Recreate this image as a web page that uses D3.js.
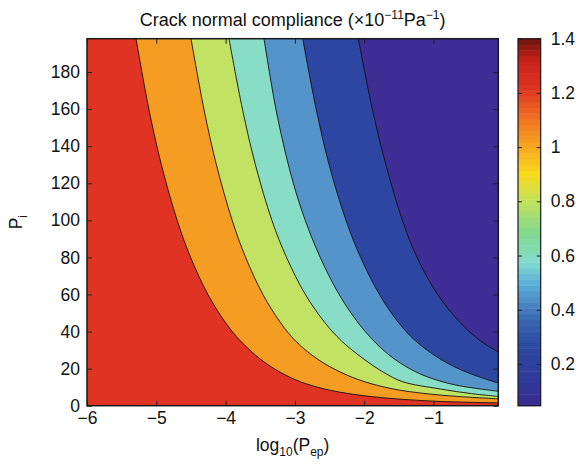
<!DOCTYPE html>
<html>
<head>
<meta charset="utf-8">
<script src="https://cdn.jsdelivr.net/npm/d3@7"></script>
<style>
body { margin: 0; background: #fff; }
svg text { font-family: "Liberation Sans", Arial, sans-serif; fill: #111; }
</style>
</head>
<body>
<svg id="chart" width="583" height="465"></svg>
<script>
// contour levels and the fill used above each one (value below the level)
var levels = [1.2, 1.0, 0.8, 0.6, 0.4, 0.2]
var baseColor = '#e03323'
var levelColors = ['#f59d23', '#c1e262', '#88ddc6', '#5593cb', '#2d46a1', '#3d2d95']

// contour lines: [log10(Pep), Pi]
var c12 = [[-5.293,198],[-5.107,160],[-4.927,130],[-4.699,100],[-4.505,80],[-4.255,60],[-4.005,45],[-3.787,35],[-3.495,25],[-3.209,18],[-2.927,13],[-2.571,9],[-2.131,6],[-1.642,4],[-1.263,3],[-0.85,2.2],[-0.065,1.5]]
var c10 = [[-4.499,198],[-4.313,160],[-4.133,130],[-3.905,100],[-3.711,80],[-3.461,60],[-3.211,45],[-2.993,35],[-2.669,25],[-2.336,18],[-2.0,13],[-1.579,9],[-1.109,6.5],[-0.653,5],[-0.065,3.7]]
var c08 = [[-3.951,198],[-3.757,160],[-3.570,130],[-3.332,100],[-3.121,80],[-2.849,60],[-2.571,45],[-2.329,35],[-2.0,25],[-1.72,18],[-1.45,13],[-0.9,9],[-0.45,6.5],[-0.065,5.0]]
var c06 = [[-3.446,198],[-3.274,160],[-3.094,130],[-2.942,110],[-2.749,90],[-2.507,70],[-2.279,55],[-1.985,40],[-1.662,28],[-1.345,20],[-1.047,15],[-0.661,11],[-0.065,7.8]]
var c04 = [[-2.887,198],[-2.693,160],[-2.506,130],[-2.263,100],[-2.052,80],[-1.780,60],[-1.508,45],[-1.260,35],[-0.895,25],[-0.519,18],[-0.065,12.2]]
var c02 = [[-2.085,198],[-1.883,160],[-1.687,130],[-1.449,100],[-1.238,80],[-0.940,60],[-0.619,45],[-0.324,35],[-0.065,29]]
var contours = [c12, c10, c08, c06, c04, c02]

var xTicks = [-6, -5, -4, -3, -2, -1]
var yTicks = [0, 20, 40, 60, 80, 100, 120, 140, 160, 180]
var xDomain = [-6, -0.065]
var yDomain = [0, 198]

// colorbar
var cDomain = [0.046, 1.4]
var cTicks = [0.2, 0.4, 0.6, 0.8, 1, 1.2, 1.4]
var cStops = [0.046, 0.15, 0.25, 0.35, 0.42, 0.5, 0.58, 0.68, 0.8, 0.9, 1.0, 1.12, 1.22, 1.32, 1.4]
var cStopColors = ['#3b2a8f','#2f3b9b','#2c46a1','#3561ad','#4a86c2','#5cb2d9','#86dccb','#80d890','#c2e25e','#f7da1c','#f8a81f','#ee6a21','#dd3323','#c9221b','#6e1410']

function draw(){
	var svg = d3.select('svg#chart')
	var left = 87, right = 498.3, top = 38.7, bottom = 405.7
	var fs = '17.5px', fsSmall = '12px'

	var x = d3.scaleLinear().domain(xDomain).range([left, right])
	var y = d3.scaleLinear().domain(yDomain).range([bottom, top])

	svg.append('clipPath').attr('id', 'plotclip')
		.append('rect')
		.attr('x', left).attr('y', top)
		.attr('width', right - left).attr('height', bottom - top)

	var g = svg.append('g').attr('clip-path', 'url(#plotclip)')

	g.append('rect')
		.attr('x', left).attr('y', top)
		.attr('width', right - left).attr('height', bottom - top)
		.style('fill', baseColor)

	var line = d3.line()
		.x(function(d){ return x(d[0]) })
		.y(function(d){ return y(d[1]) })
		.curve(d3.curveCatmullRom.alpha(0.5))

	// filled band above each contour
	g.selectAll('path.band')
		.data(contours)
		.enter()
		.append('path')
		.attr('class', 'band')
		.attr('d', function(d){
			return line(d) + 'L' + (x(xDomain[1]) + 5) + ',' + (y(yDomain[1]) - 5) + 'L' + x(d[0][0]) + ',' + (y(yDomain[1]) - 5) + 'Z'
		})
		.style('fill', function(d, i){ return levelColors[i] })

	g.selectAll('path.contour')
		.data(contours)
		.enter()
		.append('path')
		.attr('class', 'contour')
		.attr('d', line)
		.style('fill', 'none')
		.style('stroke', '#111')
		.style('stroke-width', 0.9)

	var fmt = function(d){ return d < 0 ? '\u2212' + Math.abs(d) : d }

	var xa = svg.append('g')
		.attr('transform', 'translate(0,' + bottom + ')')
		.call(d3.axisBottom(x).tickValues(xTicks).tickFormat(fmt).tickSizeInner(-5).tickSizeOuter(0).tickPadding(6))
	var ya = svg.append('g')
		.attr('transform', 'translate(' + left + ',0)')
		.call(d3.axisLeft(y).tickValues(yTicks).tickSizeInner(-5).tickSizeOuter(0).tickPadding(7))
	var xt = svg.append('g')
		.attr('transform', 'translate(0,' + top + ')')
		.call(d3.axisTop(x).tickValues(xTicks).tickFormat('').tickSizeInner(-5).tickSizeOuter(0))
	var yr = svg.append('g')
		.attr('transform', 'translate(' + right + ',0)')
		.call(d3.axisRight(y).tickValues(yTicks).tickFormat('').tickSizeInner(-5).tickSizeOuter(0))
	;[xa, ya, xt, yr].forEach(function(a){
		a.select('.domain').remove()
		a.selectAll('line').style('stroke', '#222')
		a.selectAll('text').style('font-size', fs).style('fill', '#111')
			.style('font-family', '"Liberation Sans", Arial, sans-serif')
	})

	svg.append('rect')
		.attr('x', left).attr('y', top)
		.attr('width', right - left).attr('height', bottom - top)
		.style('fill', 'none').style('stroke', '#1a1a1a').style('stroke-width', 1.5)

	// colorbar
	var cbL = 518, cbR = 540.7
	var cy = d3.scaleLinear().domain(cDomain).range([bottom, top])
	var cmap = d3.scaleLinear().domain(cStops).range(cStopColors)
	var nb = 64
	var bands = d3.range(nb).map(function(i){
		return cDomain[0] + (cDomain[1] - cDomain[0]) * i / nb
	})
	var step = (cDomain[1] - cDomain[0]) / nb
	svg.append('g').selectAll('rect')
		.data(bands)
		.enter()
		.append('rect')
		.attr('x', cbL)
		.attr('width', cbR - cbL)
		.attr('y', function(d){ return cy(d + step) })
		.attr('height', function(d){ return cy(d) - cy(d + step) + 0.5 })
		.style('fill', function(d){ return cmap(d + step / 2) })

	var cr = svg.append('g')
		.attr('transform', 'translate(' + cbR + ',0)')
		.call(d3.axisRight(cy).tickValues(cTicks).tickFormat(function(d){ return d }).tickSizeInner(-4).tickSizeOuter(0).tickPadding(10))
	var cl = svg.append('g')
		.attr('transform', 'translate(' + cbL + ',0)')
		.call(d3.axisLeft(cy).tickValues(cTicks).tickFormat('').tickSizeInner(-4).tickSizeOuter(0))
	;[cr, cl].forEach(function(a){
		a.select('.domain').remove()
		a.selectAll('line').style('stroke', '#222')
		a.selectAll('text').style('font-size', fs).style('fill', '#111')
			.style('font-family', '"Liberation Sans", Arial, sans-serif')
	})
	svg.append('rect')
		.attr('x', cbL).attr('y', top)
		.attr('width', cbR - cbL).attr('height', bottom - top)
		.style('fill', 'none').style('stroke', '#1a1a1a').style('stroke-width', 1.2)

	// title and labels
	var t = svg.append('text')
		.attr('x', (left + right) / 2).attr('y', 26)
		.attr('text-anchor', 'middle')
		.style('font-size', '18px')
	t.append('tspan').text('Crack normal compliance (\u00d710')
	t.append('tspan').attr('dy', -7).style('font-size', fsSmall).text('\u221211')
	t.append('tspan').attr('dy', 7).text('Pa')
	t.append('tspan').attr('dy', -7).style('font-size', fsSmall).text('\u22121')
	t.append('tspan').attr('dy', 7).text(')')

	var xl = svg.append('text')
		.attr('x', (left + right) / 2).attr('y', 451)
		.attr('text-anchor', 'middle')
		.style('font-size', fs)
	xl.append('tspan').text('log')
	xl.append('tspan').attr('dy', 5).style('font-size', fsSmall).text('10')
	xl.append('tspan').attr('dy', -5).text('(P')
	xl.append('tspan').attr('dy', 5).style('font-size', fsSmall).text('ep')
	xl.append('tspan').attr('dy', -5).text(')')

	var yl = svg.append('text')
		.attr('transform', 'translate(22,' + ((top + bottom) / 2) + ') rotate(-90)')
		.attr('text-anchor', 'middle')
		.style('font-size', fs)
	yl.append('tspan').text('P')
	yl.append('tspan').attr('dy', 5).style('font-size', fsSmall).text('i')
}
draw()
</script>
</body>
</html>
